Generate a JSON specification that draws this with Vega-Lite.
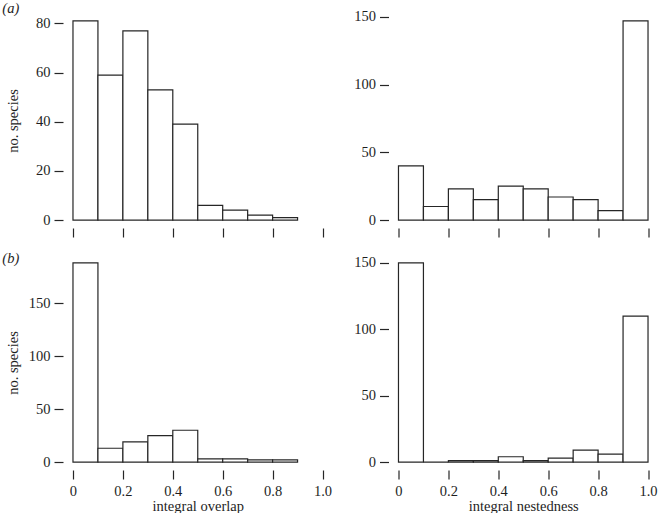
{
  "$schema": "https://vega.github.io/schema/vega-lite/v6.json",
  "padding": {"left": 2, "top": 0, "right": 0, "bottom": 0},
  "background": "white",
  "datasets": {
    "hist": [
      {"panel": "a1", "bin_start": 0.0, "bin_end": 0.1, "count": 81},
      {"panel": "a1", "bin_start": 0.1, "bin_end": 0.2, "count": 59},
      {"panel": "a1", "bin_start": 0.2, "bin_end": 0.3, "count": 77},
      {"panel": "a1", "bin_start": 0.3, "bin_end": 0.4, "count": 53},
      {"panel": "a1", "bin_start": 0.4, "bin_end": 0.5, "count": 39},
      {"panel": "a1", "bin_start": 0.5, "bin_end": 0.6, "count": 6},
      {"panel": "a1", "bin_start": 0.6, "bin_end": 0.7, "count": 4},
      {"panel": "a1", "bin_start": 0.7, "bin_end": 0.8, "count": 2},
      {"panel": "a1", "bin_start": 0.8, "bin_end": 0.9, "count": 1},
      {"panel": "a2", "bin_start": 0.0, "bin_end": 0.1, "count": 40},
      {"panel": "a2", "bin_start": 0.1, "bin_end": 0.2, "count": 10},
      {"panel": "a2", "bin_start": 0.2, "bin_end": 0.3, "count": 23},
      {"panel": "a2", "bin_start": 0.3, "bin_end": 0.4, "count": 15},
      {"panel": "a2", "bin_start": 0.4, "bin_end": 0.5, "count": 25},
      {"panel": "a2", "bin_start": 0.5, "bin_end": 0.6, "count": 23},
      {"panel": "a2", "bin_start": 0.6, "bin_end": 0.7, "count": 17},
      {"panel": "a2", "bin_start": 0.7, "bin_end": 0.8, "count": 15},
      {"panel": "a2", "bin_start": 0.8, "bin_end": 0.9, "count": 7},
      {"panel": "a2", "bin_start": 0.9, "bin_end": 1.0, "count": 147},
      {"panel": "b1", "bin_start": 0.0, "bin_end": 0.1, "count": 188},
      {"panel": "b1", "bin_start": 0.1, "bin_end": 0.2, "count": 13},
      {"panel": "b1", "bin_start": 0.2, "bin_end": 0.3, "count": 19},
      {"panel": "b1", "bin_start": 0.3, "bin_end": 0.4, "count": 25},
      {"panel": "b1", "bin_start": 0.4, "bin_end": 0.5, "count": 30},
      {"panel": "b1", "bin_start": 0.5, "bin_end": 0.6, "count": 3},
      {"panel": "b1", "bin_start": 0.6, "bin_end": 0.7, "count": 3},
      {"panel": "b1", "bin_start": 0.7, "bin_end": 0.8, "count": 2},
      {"panel": "b1", "bin_start": 0.8, "bin_end": 0.9, "count": 2},
      {"panel": "b2", "bin_start": 0.0, "bin_end": 0.1, "count": 150},
      {"panel": "b2", "bin_start": 0.1, "bin_end": 0.2, "count": 0},
      {"panel": "b2", "bin_start": 0.2, "bin_end": 0.3, "count": 1},
      {"panel": "b2", "bin_start": 0.3, "bin_end": 0.4, "count": 1},
      {"panel": "b2", "bin_start": 0.4, "bin_end": 0.5, "count": 4},
      {"panel": "b2", "bin_start": 0.5, "bin_end": 0.6, "count": 1},
      {"panel": "b2", "bin_start": 0.6, "bin_end": 0.7, "count": 3},
      {"panel": "b2", "bin_start": 0.7, "bin_end": 0.8, "count": 9},
      {"panel": "b2", "bin_start": 0.8, "bin_end": 0.9, "count": 6},
      {"panel": "b2", "bin_start": 0.9, "bin_end": 1.0, "count": 110}
    ]
  },
  "columns": 2,
  "bounds": "flush",
  "spacing": {"row": 27, "column": 55.5},
  "concat": [
    {
      "width": 269.5, "height": 215,
      "title": {"text": "(a)", "anchor": "start", "frame": "group", "dx": -60.7, "offset": -14, "baseline": "alphabetic"},
      "layer": [
        {
          "data": {"name": "hist"},
          "transform": [{"filter": "datum.panel == 'a1'"}],
          "mark": {"type": "bar", "fill": "white", "stroke": "#262626", "strokeWidth": 1.2},
          "encoding": {
            "x": {"field": "bin_start", "type": "quantitative", "scale": {"domain": [-0.04, 1.04], "nice": false, "zero": false},
                  "axis": {"values": [0, 0.2, 0.4, 0.6, 0.8, 1], "labels": false, "title": null}},
            "x2": {"field": "bin_end"},
            "y": {"field": "count", "type": "quantitative", "scale": {"domain": [-3.24, 84.24], "nice": false, "zero": false},
                  "axis": {"values": [0, 20, 40, 60, 80], "title": "no. species"}},
            "y2": {"datum": 0}
          }
        },
        {"mark": {"type": "rule", "color": "#262626", "strokeWidth": 1.2}, "encoding": {"x": {"datum": -0.04}, "y": {"datum": 0}, "y2": {"datum": 80}}},
        {"mark": {"type": "rule", "color": "#262626", "strokeWidth": 1.2}, "encoding": {"y": {"datum": -3.24}, "x": {"datum": 0}, "x2": {"datum": 1}}}
      ]
    },
    {
      "width": 269.5, "height": 215,
      "layer": [
        {
          "data": {"name": "hist"},
          "transform": [{"filter": "datum.panel == 'a2'"}],
          "mark": {"type": "bar", "fill": "white", "stroke": "#262626", "strokeWidth": 1.2},
          "encoding": {
            "x": {"field": "bin_start", "type": "quantitative", "scale": {"domain": [-0.04, 1.04], "nice": false, "zero": false},
                  "axis": {"values": [0, 0.2, 0.4, 0.6, 0.8, 1], "labels": false, "title": null}},
            "x2": {"field": "bin_end"},
            "y": {"field": "count", "type": "quantitative", "scale": {"domain": [-5.88, 152.88], "nice": false, "zero": false},
                  "axis": {"values": [0, 50, 100, 150], "title": null}},
            "y2": {"datum": 0}
          }
        },
        {"mark": {"type": "rule", "color": "#262626", "strokeWidth": 1.2}, "encoding": {"x": {"datum": -0.04}, "y": {"datum": 0}, "y2": {"datum": 150}}},
        {"mark": {"type": "rule", "color": "#262626", "strokeWidth": 1.2}, "encoding": {"y": {"datum": -5.88}, "x": {"datum": 0}, "x2": {"datum": 1}}}
      ]
    },
    {
      "width": 269.5, "height": 215,
      "title": {"text": "(b)", "anchor": "start", "frame": "group", "dx": -60.7, "offset": -22, "baseline": "alphabetic"},
      "layer": [
        {
          "data": {"name": "hist"},
          "transform": [{"filter": "datum.panel == 'b1'"}],
          "mark": {"type": "bar", "fill": "white", "stroke": "#262626", "strokeWidth": 1.2},
          "encoding": {
            "x": {"field": "bin_start", "type": "quantitative", "scale": {"domain": [-0.04, 1.04], "nice": false, "zero": false},
                  "axis": {"values": [0, 0.2, 0.4, 0.6, 0.8, 1], "title": "integral overlap"}},
            "x2": {"field": "bin_end"},
            "y": {"field": "count", "type": "quantitative", "scale": {"domain": [-7.52, 195.52], "nice": false, "zero": false},
                  "axis": {"values": [0, 50, 100, 150], "title": "no. species"}},
            "y2": {"datum": 0}
          }
        },
        {"mark": {"type": "rule", "color": "#262626", "strokeWidth": 1.2}, "encoding": {"x": {"datum": -0.04}, "y": {"datum": 0}, "y2": {"datum": 150}}},
        {"mark": {"type": "rule", "color": "#262626", "strokeWidth": 1.2}, "encoding": {"y": {"datum": -7.52}, "x": {"datum": 0}, "x2": {"datum": 1}}}
      ]
    },
    {
      "width": 269.5, "height": 215,
      "layer": [
        {
          "data": {"name": "hist"},
          "transform": [{"filter": "datum.panel == 'b2'"}],
          "mark": {"type": "bar", "fill": "white", "stroke": "#262626", "strokeWidth": 1.2},
          "encoding": {
            "x": {"field": "bin_start", "type": "quantitative", "scale": {"domain": [-0.04, 1.04], "nice": false, "zero": false},
                  "axis": {"values": [0, 0.2, 0.4, 0.6, 0.8, 1], "title": "integral nestedness"}},
            "x2": {"field": "bin_end"},
            "y": {"field": "count", "type": "quantitative", "scale": {"domain": [-6, 156], "nice": false, "zero": false},
                  "axis": {"values": [0, 50, 100, 150], "title": null}},
            "y2": {"datum": 0}
          }
        },
        {"mark": {"type": "rule", "color": "#262626", "strokeWidth": 1.2}, "encoding": {"x": {"datum": -0.04}, "y": {"datum": 0}, "y2": {"datum": 150}}},
        {"mark": {"type": "rule", "color": "#262626", "strokeWidth": 1.2}, "encoding": {"y": {"datum": -6}, "x": {"datum": 0}, "x2": {"datum": 1}}}
      ]
    }
  ],
  "config": {
    "view": {"stroke": null},
    "font": "Liberation Serif",
    "axis": {
      "domain": false, "grid": false, "tickSize": 9, "tickColor": "#262626", "tickWidth": 1.2,
      "labelFont": "Liberation Serif", "labelFontSize": 14.5, "labelColor": "#1e1e1e",
      "titleFont": "Liberation Serif", "titleFontSize": 14.5, "titleFontWeight": "normal", "titleColor": "#1e1e1e",
      "labelFlush": false, "labelOverlap": false
    },
    "axisX": {"labelPadding": 16, "labelBaseline": "alphabetic", "labelExpr": "datum.value == 0 ? '0' : format(datum.value, '.1f')", "titleY": 40.5, "titleBaseline": "alphabetic"},
    "axisY": {"labelAngle": 0, "labelPadding": 4, "titleX": -50, "titleBaseline": "middle"},
    "title": {"font": "Liberation Serif", "fontSize": 14.5, "fontWeight": "normal", "fontStyle": "italic", "color": "#1e1e1e"}
  }
}
